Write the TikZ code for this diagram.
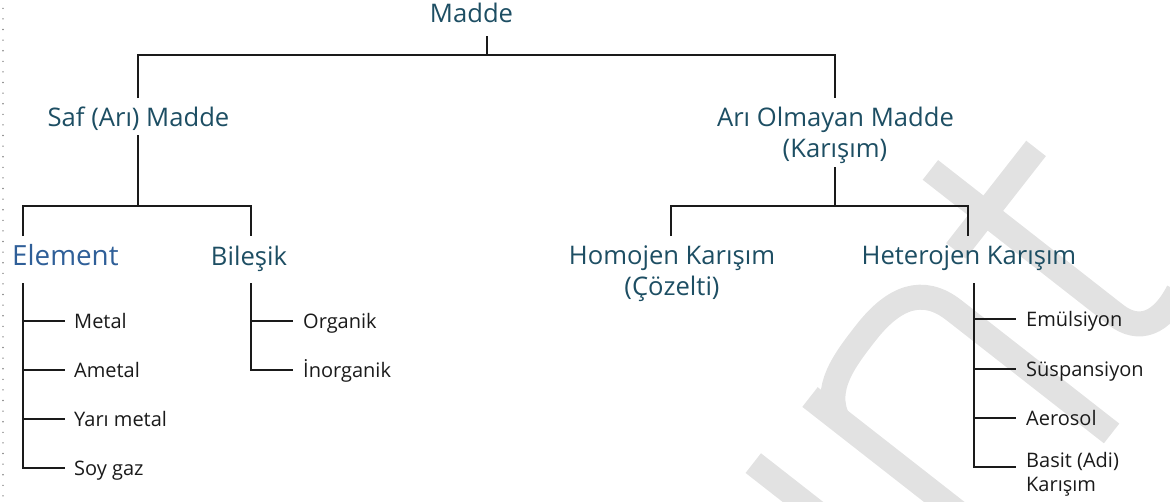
\documentclass[tikz,border=0pt]{standalone}
\usepackage{fontspec}
\setmainfont{Open Sans}
\definecolor{headc}{HTML}{1D4E63}
\definecolor{elemc}{HTML}{2F5F98}
\definecolor{itemc}{HTML}{1A1A1A}
\definecolor{linec}{HTML}{1A1A1A}
\definecolor{wmc}{HTML}{E2E2E2}
\definecolor{dotc}{HTML}{808080}
\tikzset{
  head/.style={font=\fontsize{25.6}{31}\selectfont, text=headc, inner sep=0pt, anchor=base},
  elem/.style={font=\fontsize{27.8}{32}\selectfont, text=elemc, inner sep=0pt, anchor=base west},
  item/.style={font=\fontsize{20}{25}\selectfont, text=itemc, inner sep=0pt, anchor=base west, text height=15pt, text depth=0pt},
  conn/.style={line width=2pt, draw=linec},
  wm/.style={line width=25pt, draw=wmc, line cap=butt},
  dotline/.style={line width=1.6pt, draw=dotc, line cap=round, dash pattern=on 0pt off 10.6pt}
}
\begin{document}
\begin{tikzpicture}[x=1pt,y=-1pt]
\useasboundingbox (0,0) rectangle (1170,501);
% watermark
\begin{scope}
\clip (0,0) rectangle (1170,501);
\begin{scope}[shift={(810pt,-397pt)}, x={(0.616pt,0.788pt)}, y={(-0.788pt,0.616pt)}]
  \draw[wm] (-87,4) -- (-87,-260);
  \draw[wm] (0,0) -- (0,-260);
  \draw[wm] (0,-35) .. controls (15,-5) and (50,-4.5) .. (85,-4.5) .. controls (130,-4.5) and (157,-20) .. (157,-60) -- (157,-260);
  \draw[wm] (253,45) -- (253,-190) .. controls (253,-220) and (275,-232) .. (310,-225);
  \draw[wm] (205,-25) -- (335,-25);
\end{scope}
\end{scope}
% left dotted rule
\coordinate (dtop) at (3,8.3);
\coordinate (dbot) at (3,501);
\draw[dotline] (dtop) -- (dbot);

% headings
\node[head] (madde) at (471.5,22) {Madde};
\node[head] (saf) at (138.5,126) {Saf (Arı) Madde};
\node[head] (ari1) at (835.5,126) {Arı Olmayan Madde};
\node[head] (ari2) at (835,157) {(Karışım)};
\node[elem] (element) at (12,265) {Element};
\node[head] (bilesik) at (249,265) {Bileşik};
\node[head] (homo1) at (672,264) {Homojen Karışım};
\node[head] (homo2) at (672,295) {(Çözelti)};
\node[head] (hetero) at (969,264) {Heterojen Karışım};

% items
\node[item] (metal) at (74,328) {Metal};
\node[item] (ametal) at (74,377) {Ametal};
\node[item] (yari) at (74,426.5) {Yarı metal};
\node[item] (soy) at (74,475.5) {Soy gaz};
\node[item] (organik) at (303,328.5) {Organik};
\node[item] (inorganik) at (303,377) {İnorganik};
\node[item] (emul) at (1026,326.5) {Emülsiyon};
\node[item] (susp) at (1026,376) {Süspansiyon};
\node[item] (aero) at (1026,425.5) {Aerosol};
\node[item] (basit) at (1026,467) {Basit (Adi)};
\node[item] (karisim) at (1026,491.5) {Karışım};

% junction coordinates
\coordinate (mtop) at (487,36);
\coordinate (mj) at (487,55);
\coordinate (safj) at (138,98);
\coordinate (arij) at (835,98);
\coordinate (safb) at (138,135);
\coordinate (safh) at (138,206);
\coordinate (elj) at (23,236);
\coordinate (bilj) at (251,236);
\coordinate (arib) at (835,167);
\coordinate (arih) at (835,206);
\coordinate (homj) at (671,236);
\coordinate (hetj) at (968,236);
\coordinate (elv) at (23,283);
\coordinate (bilv) at (251,283);
\coordinate (hetv) at (974,283);

% level 1
\draw[conn] (mtop) -- (mj);
\draw[conn] (safj) |- (mj) -| (arij);
% saf branch
\draw[conn] (safb) -- (safh);
\draw[conn] (elj) |- (safh) -| (bilj);
% ari branch
\draw[conn] (arib) -- (arih);
\draw[conn] (homj) |- (arih) -| (hetj);
% element list
\draw[conn] (elv) |- ([xshift=-9pt]soy.west);
\draw[conn] (elv |- metal.west) -- ([xshift=-9pt]metal.west);
\draw[conn] (elv |- ametal.west) -- ([xshift=-9pt]ametal.west);
\draw[conn] (elv |- yari.west) -- ([xshift=-9pt]yari.west);
% bilesik list
\draw[conn] (bilv) |- ([xshift=-10pt]inorganik.west);
\draw[conn] (bilv |- organik.west) -- ([xshift=-10pt]organik.west);
% heterojen list
\coordinate (basitj) at ([xshift=-10pt]basit.base west);
\draw[conn] (hetv) |- (basitj);
\draw[conn] (hetv |- emul.west) -- ([xshift=-10pt]emul.west);
\draw[conn] (hetv |- susp.west) -- ([xshift=-10pt]susp.west);
\draw[conn] (hetv |- aero.west) -- ([xshift=-10pt]aero.west);
\end{tikzpicture}
\end{document}
